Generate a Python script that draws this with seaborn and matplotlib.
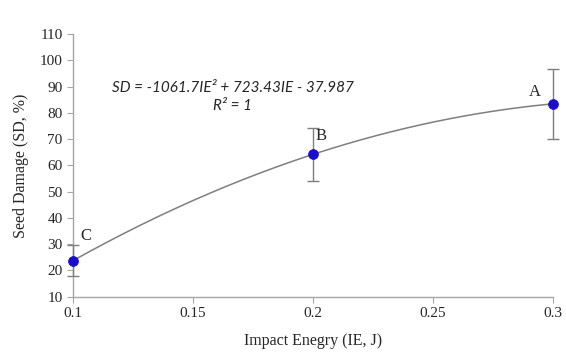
import numpy as np
import pandas as pd
import matplotlib
matplotlib.use("Agg")
import matplotlib.pyplot as plt
import seaborn as sns

# values
impact_energy = [0.1, 0.2, 0.3]
seed_damage = [23.74, 64.23, 83.49]
sd_error = [6.0, 10.2, 13.3]
group_labels = ["C", "B", "A"]

sns.set_style("white")
plt.rcParams['font.family'] = ['Liberation Serif', 'DejaVu Serif']

df = pd.DataFrame({"IE": impact_energy, "SD": seed_damage, "err": sd_error})

# quadratic trend line through the points
coef = np.polyfit(df["IE"], df["SD"], 2)
ie_fine = np.linspace(0.1, 0.3, 200)
trend = pd.DataFrame({"IE": ie_fine, "SD": np.polyval(coef, ie_fine)})

fig = plt.figure(figsize=(5.66, 3.53), dpi=100)
ax = fig.add_axes([0.129, 0.1595, 0.848, 0.7435])

sns.lineplot(data=trend, x="IE", y="SD", color="#7f7f7f", linewidth=1.1, ax=ax)
eb = ax.errorbar(df["IE"], df["SD"], yerr=df["err"], fmt="none", ecolor="#7f7f7f",
                 elinewidth=1.0, capsize=4, capthick=1.0, zorder=3)
for art in eb.lines[1] + eb.lines[2]:
    art.set_clip_on(False)
sns.scatterplot(data=df, x="IE", y="SD", color="#1a0dcc", s=50, edgecolor="#1a0dcc",
                zorder=4, clip_on=False, ax=ax)

# letter labels
offsets = [(0.0055, 9.5), (0.0035, 7.0), (-0.0075, 4.5)]
for x, y, lab, (dx, dy) in zip(impact_energy, seed_damage, group_labels, offsets):
    ax.text(x + dx, y + dy, lab, fontsize=12, ha="center", va="center")

eq_font = ["Lato", "DejaVu Sans"]
ax.text(0.1665, 89.5, "SD = -1061.7IE² + 723.43IE - 37.987", fontsize=11,
        style="italic", family=eq_font, ha="center", va="center")
ax.text(0.1665, 82.5, "R² = 1", fontsize=11, style="italic",
        family=eq_font, ha="center", va="center")

ax.set_xlim(0.1, 0.3)
ax.set_ylim(10, 110)
ax.set_xticks([0.1, 0.15, 0.2, 0.25, 0.3])
ax.set_xticklabels(["0.1", "0.15", "0.2", "0.25", "0.3"])
ax.set_yticks(range(10, 111, 10))
ax.set_xlabel("Impact Enegry (IE, J)", fontsize=11.5, labelpad=9)
ax.set_ylabel("Seed Damage (SD, %)", fontsize=11.5, labelpad=8)
ax.tick_params(labelsize=11, length=4, color="#a6a6a6", direction="out",
               left=True, bottom=True)
sns.despine(ax=ax)
for side in ["left", "bottom"]:
    ax.spines[side].set_color("#a6a6a6")
    ax.spines[side].set_linewidth(1.0)

fig.savefig("out.png", dpi=100)
